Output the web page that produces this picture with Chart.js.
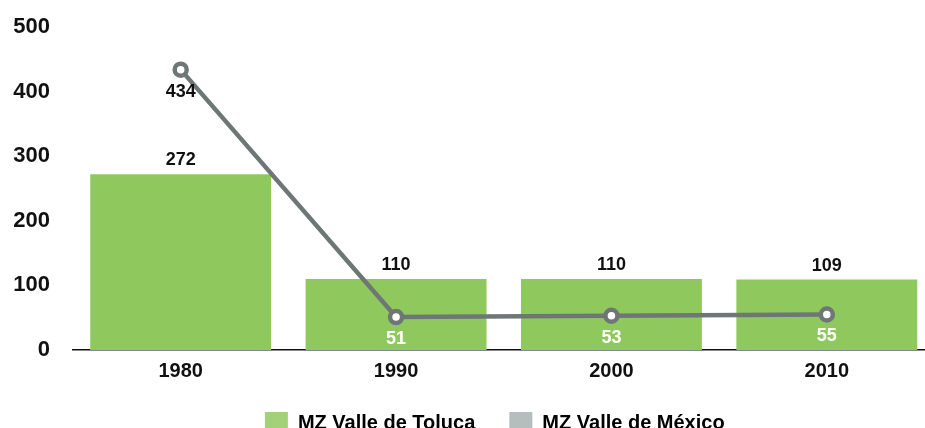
<!DOCTYPE html>
<html>
<head>
<meta charset="utf-8">
<script src="https://cdn.jsdelivr.net/npm/chart.js@4"></script>
<style>
  html, body { margin: 0; padding: 0; background: #fff; overflow: hidden; }
  canvas { display: block; }
</style>
</head>
<body>
<canvas id="chart" width="945" height="445"></canvas>
<script>
const years = ['1980', '1990', '2000', '2010'];
const toluca = [272, 110, 110, 109];
const mexico = [434, 51, 53, 55];
const seriesNames = ['MZ Valle de Toluca', 'MZ Valle de México'];
const legendColors = ['#a3d17a', '#b5bdbd'];
const yTicks = [0, 100, 200, 300, 400, 500];

const FONT = '"Liberation Sans", Arial, Helvetica, sans-serif';

// etiquetas de valor (sin plugin externo)
const valueLabels = {
  id: 'valueLabels',
  afterDatasetsDraw(chart) {
    const ctx = chart.ctx;
    ctx.save();
    ctx.font = 'bold 18px ' + FONT;
    ctx.textAlign = 'center';
    chart.data.datasets.forEach((ds, i) => {
      const meta = chart.getDatasetMeta(i);
      meta.data.forEach((el, j) => {
        const v = ds.data[j];
        if (ds.type === 'bar') {
          ctx.fillStyle = '#111';
          ctx.textBaseline = 'bottom';
          ctx.fillText(v, el.x, el.y - 5);
        } else {
          ctx.fillStyle = j === 0 ? '#111' : '#fff';
          ctx.textBaseline = 'middle';
          ctx.fillText(v, el.x, el.y + 22);
        }
      });
    });
    ctx.restore();
  }
};

// corre la leyenda un poco a la izquierda
const legendShift = {
  id: 'legendShift',
  afterLayout(chart) {
    if (!chart.legend) return;
    chart.legend.left -= 9;
    chart.legend.right -= 9;
  }
};

new Chart(document.getElementById('chart'), {
  data: {
    labels: years,
    datasets: [
      {
        type: 'line',
        label: seriesNames[1],
        data: mexico,
        borderColor: '#6f7776',
        backgroundColor: legendColors[1],
        borderWidth: 4.5,
        pointRadius: 6,
        pointBorderWidth: 4.5,
        pointBackgroundColor: '#fff',
        pointBorderColor: '#6f7776',
        tension: 0,
        order: 0
      },
      {
        type: 'bar',
        label: seriesNames[0],
        data: toluca,
        backgroundColor: '#8fc95e',
        barPercentage: 0.84,
        categoryPercentage: 1,
        order: 1
      }
    ]
  },
  options: {
    responsive: false,
    animation: false,
    layout: { padding: { left: 13, top: 27, right: 2 } },
    plugins: {
      tooltip: { enabled: false },
      legend: {
        position: 'bottom',
        fullSize: false,
        labels: {
          boxWidth: 23,
          boxHeight: 23,
          padding: 34,
          color: '#111',
          font: { family: FONT, size: 20, weight: 'bold' },
          generateLabels: () => [0, 1].map(i => ({
            text: seriesNames[i],
            fillStyle: legendColors[i],
            strokeStyle: legendColors[i],
            lineWidth: 0,
            datasetIndex: i === 0 ? 1 : 0
          }))
        }
      }
    },
    scales: {
      x: {
        grid: { display: false, drawTicks: false },
        border: { display: true, color: '#111', width: 1.5 },
        afterFit: (axis) => {
          axis.height -= 14;
          axis.paddingLeft = 0;
          axis.paddingRight = 0;
        },
        ticks: {
          color: '#111',
          padding: 9,
          font: { family: FONT, size: 20, weight: 'bold' }
        }
      },
      y: {
        min: 0,
        max: 500,
        grid: { display: false, drawTicks: false },
        border: { display: false },
        afterBuildTicks: (axis) => { axis.ticks = yTicks.map(v => ({ value: v })); },
        afterFit: (axis) => {
          axis.width = 60;
          axis.paddingTop = 0;
          axis.paddingBottom = 0;
        },
        ticks: {
          color: '#111',
          padding: 23,
          font: { family: FONT, size: 22, weight: 'bold' }
        }
      }
    }
  },
  plugins: [valueLabels, legendShift]
});
</script>
</body>
</html>
